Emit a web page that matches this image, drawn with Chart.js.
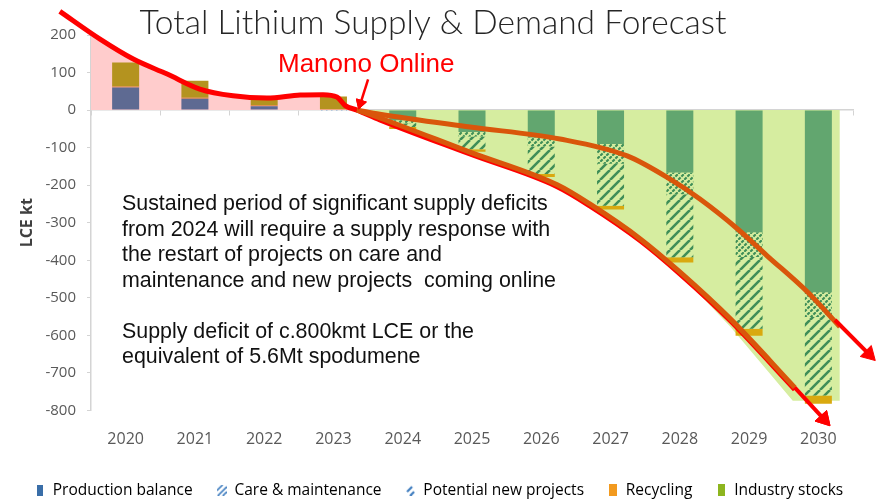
<!DOCTYPE html>
<html>
<head>
<meta charset="utf-8">
<title>Total Lithium Supply &amp; Demand Forecast</title>
<script src="https://cdn.jsdelivr.net/npm/chart.js@4"></script>
<style>
  html, body { margin: 0; padding: 0; background: #fff; }
</style>
</head>
<body>
<canvas id="grafico" width="884" height="503"></canvas>
<script>
// values, LCE kt
const years             = ['2020', '2021', '2022', '2023', '2024', '2025', '2026', '2027', '2028', '2029', '2030'];
const productionBalance = [60, 30, 10, 0, -27, -58, -73, -90, -166, -325, -485];
const careMaintenance   = [0, 0, 0, 0, -8, -12, -24, -53, -58, -66, -66];
const potentialProjects = [0, 0, 0, -5, -10, -34, -73, -112, -168, -191, -209];
const recycling         = [3, 3, 3, 3, -5, -7, -8, -10, -14, -19, -22];
const industryStocks    = [64, 45, 22, 33, 0, 0, 0, 0, 0, 0, 0];

const legendNames = ['Production balance', 'Care & maintenance', 'Potential new projects', 'Recycling', 'Industry stocks'];

// hand drawn overlay, [year index, LCE kt]
const redCurve      = [[-0.95, 263], [-0.37, 189], [0.11, 136], [0.6, 96], [1.07, 56], [1.55, 38], [2.04, 32], [2.52, 40], [2.85, 41], [3.05, 35], [3.17, 12], [3.34, 0],
                       [3.67, -26], [4.97, -117], [6.23, -204], [6.7, -255], [7.43, -348], [8.0, -436], [8.73, -561], [9.66, -744]];
const upperForecast = [[3.34, 0], [3.67, -11], [4.97, -45], [6.27, -77], [7.24, -122], [7.86, -184], [8.29, -237], [8.83, -316], [9.26, -388], [9.84, -484], [10.31, -577]];
const lowerForecast = [[3.34, 0], [3.67, -21], [4.97, -112], [6.23, -199], [6.7, -250], [7.43, -343], [8.0, -431], [8.73, -556], [9.66, -739]];
const deficitArea   = [[3.27, 0], [3.67, -21], [4.97, -112], [6.23, -202], [6.7, -253], [7.43, -346], [8.0, -436], [8.73, -577], [9.63, -774], [10.31, -774]];
const upperArrow    = [[10.24, -559], [10.73, -650]];
const lowerArrow    = [[9.66, -739], [10.08, -823]];
const manonoArrow   = [[3.5, 82], [3.39, 18]];

const chartTitle = 'Total Lithium Supply & Demand Forecast';
const milestone  = 'Manono Online';
const noteLines  = [
    'Sustained period of significant supply deficits',
    'from 2024 will require a supply response with',
    'the restart of projects on care and',
    'maintenance and new projects  coming online',
    '',
    'Supply deficit of c.800kmt LCE or the',
    'equivalent of 5.6Mt spodumene'
];

const pts = (arr) => arr.map(([x, y]) => ({ x, y }));

// hatch tiles for the bars
function hatch(size, bg, fg, width, breakWidth) {
    const c = document.createElement('canvas');
    c.width = c.height = size;
    const g = c.getContext('2d');
    if (bg) { g.fillStyle = bg; g.fillRect(0, 0, size, size); }
    g.strokeStyle = fg;
    g.lineWidth = width;
    g.beginPath();
    [-size, 0, size].forEach(k => { g.moveTo(k, size); g.lineTo(k + size, 0); });
    g.stroke();
    if (breakWidth) {
        // cut the stripes into short dashes
        g.strokeStyle = bg;
        g.lineWidth = breakWidth;
        g.beginPath();
        [-size, 0, size].forEach(k => { g.moveTo(k, 0); g.lineTo(k + size, size); });
        g.stroke();
    }
    return g.createPattern(c, 'repeat');
}

function blueTicks() {
    const c = document.createElement('canvas');
    c.width = 5; c.height = 4;
    const g = c.getContext('2d');
    g.fillStyle = '#7ea6d3';
    g.fillRect(1, 0, 1.5, 3);
    return g.createPattern(c, 'repeat');
}

const denseHatch  = hatch(6, '#d6eda0', '#3f8e58', 2.2, 1.2);
const sparseHatch = hatch(10, '#d6eda0', '#3f8e58', 2.6, 0);

// legend icons
function icon(w, h, draw) {
    const c = document.createElement('canvas');
    c.width = w; c.height = h;
    draw(c.getContext('2d'), w, h);
    return c;
}
const legendIcons = [
    icon(6, 11, (g, w, h) => { g.fillStyle = '#3a6ea8'; g.fillRect(0, 0, w, h); }),
    icon(10, 11, (g) => {
        g.strokeStyle = '#3f7dbf'; g.lineWidth = 1.6;
        g.beginPath();
        g.moveTo(0, 6); g.lineTo(6, 0);
        g.moveTo(1, 11); g.lineTo(10, 2);
        g.moveTo(6, 11); g.lineTo(10, 7);
        g.stroke();
    }),
    icon(9, 11, (g) => {
        g.strokeStyle = '#3f7dbf'; g.lineWidth = 2.2;
        g.beginPath();
        g.moveTo(1, 7); g.lineTo(6, 2);
        g.moveTo(4, 11); g.lineTo(8, 7);
        g.stroke();
    }),
    icon(8, 12, (g, w, h) => { g.fillStyle = '#f29a1f'; g.fillRect(0, 0, w, h); }),
    icon(7, 12, (g, w, h) => { g.fillStyle = '#8db51f'; g.fillRect(0, 0, w, h); })
];

// arrow heads point along the segment, in pixels
function headRotation(ctx) {
    const d = ctx.dataset.data;
    const sx = ctx.chart.scales.x2, sy = ctx.chart.scales.y2;
    const dx = sx.getPixelForValue(d[1].x) - sx.getPixelForValue(d[0].x);
    const dy = sy.getPixelForValue(d[1].y) - sy.getPixelForValue(d[0].y);
    return Math.atan2(dx, -dy) * 180 / Math.PI;
}

function overlay(data, extra) {
    return Object.assign({
        type: 'line',
        data: pts(data),
        xAxisID: 'x2',
        yAxisID: 'y2',
        pointRadius: 0,
        fill: false,
        clip: false,
        cubicInterpolationMode: 'monotone'
    }, extra);
}

function arrow(data, width, head) {
    return overlay(data, {
        arrowHead: true,
        borderColor: '#ff0000',
        backgroundColor: '#ff0000',
        borderWidth: width,
        cubicInterpolationMode: 'default',
        tension: 0,
        pointStyle: 'triangle',
        pointRadius: [0, head],
        pointBorderWidth: 1,
        pointRotation: headRotation,
        order: 1
    });
}

function bars(label, data, color) {
    return { label, data, order: 10, grouped: false, backgroundColor: color, categoryPercentage: 1, barPercentage: 0.39 };
}

// Chart.js skips points outside the plot area; the heads sit past its edge
const arrowHeads = {
    id: 'arrowHeads',
    afterDatasetsDraw(chart) {
        const whole = { left: 0, top: 0, right: chart.width, bottom: chart.height };
        chart.data.datasets.forEach((ds, i) => {
            if (!ds.arrowHead) return;
            const meta = chart.getDatasetMeta(i);
            meta.data[meta.data.length - 1].draw(chart.ctx, whole);
        });
    }
};

const notes = {
    id: 'notes',
    afterDraw(chart) {
        const ctx = chart.ctx;
        ctx.save();
        ctx.textBaseline = 'alphabetic';
        ctx.textAlign = 'center';
        ctx.fillStyle = '#262626';
        ctx.font = '300 33.5px Lato, "Lato Light", sans-serif';
        ctx.fillText(chartTitle, 433, 34);

        ctx.textAlign = 'left';
        ctx.fillStyle = '#ff0000';
        ctx.font = '26px "Liberation Sans", Arial, sans-serif';
        ctx.fillText(milestone, 278, 72);

        ctx.fillStyle = '#111';
        ctx.font = '21.4px "Liberation Sans", Arial, sans-serif';
        noteLines.forEach((line, i) => ctx.fillText(line, 122, 210 + i * 25.5));
        ctx.restore();
    }
};

new Chart(document.getElementById('grafico'), {
    type: 'bar',
    data: {
        labels: years,
        datasets: [
            bars(legendNames[0], productionBalance, productionBalance.map(v => v >= 0 ? '#5e6a92' : '#62a66f')),
            bars(legendNames[1], careMaintenance, denseHatch),
            bars(legendNames[2], potentialProjects, years.map((y, i) => i < 4 ? blueTicks() : sparseHatch)),
            bars(legendNames[3], recycling, recycling.map(v => v >= 0 ? '#e07f34' : '#d9a90f')),
            bars(legendNames[4], industryStocks, '#b4931f'),

            overlay(redCurve.filter(p => p[0] <= 3.34), { backgroundColor: '#ffcccc', borderWidth: 0, fill: 'origin', clip: undefined, order: 20 }),
            overlay(deficitArea, { backgroundColor: '#d6eda0', borderWidth: 0, fill: 'origin', clip: undefined, cubicInterpolationMode: 'default', tension: 0, order: 20 }),
            overlay(redCurve, { borderColor: '#ff0000', borderWidth: 5, order: 4 }),
            overlay(upperForecast, { borderColor: '#d9560b', borderWidth: 5, order: 3 }),
            overlay(lowerForecast, { borderColor: '#d9560b', borderWidth: 5, order: 3 }),
            arrow(upperArrow, 4, 9),
            arrow(lowerArrow, 4, 9),
            arrow(manonoArrow, 2.5, 6)
        ]
    },
    options: {
        responsive: false,
        animation: false,
        events: [],
        layout: { padding: { top: 35, right: 0, bottom: -5, left: 11 } },
        plugins: {
            title: { display: false },
            tooltip: { enabled: false },
            legend: {
                position: 'bottom',
                align: 'start',
                labels: {
                    usePointStyle: true,
                    boxWidth: 10,
                    pointStyleWidth: 10,
                    padding: 24,
                    color: '#404040',
                    font: { family: 'Open Sans', size: 15.5 },
                    generateLabels: () => legendNames.map((text, i) => ({
                        text, pointStyle: legendIcons[i], datasetIndex: i,
                        fillStyle: 'transparent', strokeStyle: 'transparent', lineWidth: 0, hidden: false
                    }))
                }
            }
        },
        scales: {
            x: {
                stacked: true,
                grid: { display: false, drawTicks: false },
                border: { display: false },
                ticks: { color: '#595959', font: { family: 'Open Sans', size: 16 }, padding: 19 },
                afterFit: (s) => { s.height = 48; }
            },
            xZero: {
                type: 'category',
                axis: 'x',
                position: { y: 0 },
                offset: true,
                grid: { offset: true, drawOnChartArea: false, tickLength: 5, color: '#d4d4d4' },
                border: { color: '#d4d4d4', width: 1.5 },
                ticks: { display: false }
            },
            x2: { type: 'linear', display: false, offset: false, min: -0.5, max: 10.5 },
            y: {
                stacked: true,
                min: -800,
                max: 200,
                ticks: { stepSize: 100, color: '#595959', font: { family: 'Open Sans', size: 15 }, padding: 11 },
                grid: { drawOnChartArea: false, tickLength: 4, color: '#d4d4d4' },
                border: { color: '#d4d4d4', width: 1.5 },
                title: { display: true, text: 'LCE kt', color: '#404040', font: { family: 'Open Sans', size: 16, weight: 'bold' }, padding: { top: 7 } },
                afterFit: (s) => { s.width = 80; }
            },
            // invisible right axis, keeps the plot clear of the right margin
            y2: {
                type: 'linear', position: 'right', offset: false, min: -800, max: 200,
                ticks: { display: false }, grid: { display: false }, border: { display: false },
                afterFit: (s) => { s.width = 31; }
            }
        }
    },
    plugins: [arrowHeads, notes]
});
</script>
</body>
</html>
